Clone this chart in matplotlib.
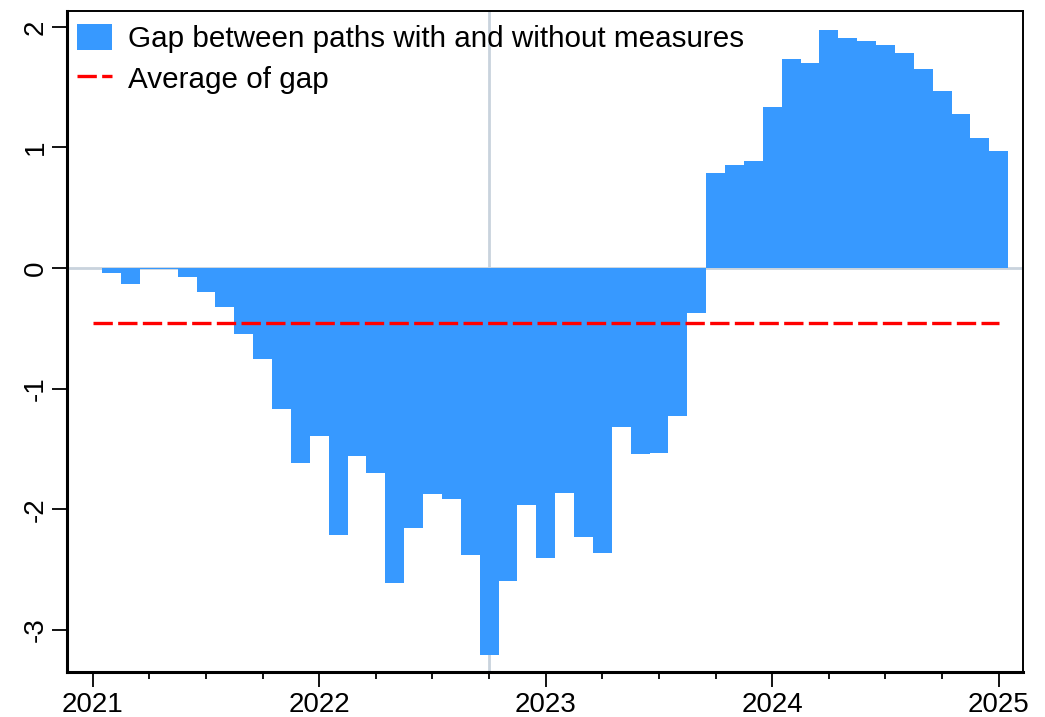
import matplotlib

matplotlib.use('Agg')

import matplotlib.pyplot as plt
import numpy as np
from matplotlib.ticker import MultipleLocator


plt.rcParams['font.family'] = ['Liberation Sans', 'DejaVu Sans']

# monthly gap, Jan 2021 .. Jan 2025
MONTHS = np.arange(49)
GAP = [
    0.0, -0.04, -0.135, -0.01, -0.01, -0.072, -0.196, -0.32, -0.545, -0.755, -1.17, -1.617,
    -1.393, -2.214, -1.559, -1.70, -2.61, -2.156, -1.874, -1.915, -2.38, -3.21, -2.595, -1.965,
    -2.405, -1.866, -2.23, -2.363, -1.318, -1.542, -1.534, -1.227, -0.373, 0.788, 0.854, 0.887,
    1.335, 1.733, 1.70, 1.973, 1.907, 1.882, 1.849, 1.783, 1.65, 1.468, 1.277, 1.078,
    0.97,
]
YEAR_TICKS = [0, 12, 24, 36, 48]
YEAR_LABELS = ['2021', '2022', '2023', '2024', '2025']
MARKER_MONTH = 21  # Oct 2022

BAR_COLOR = '#3799ff'
GRID_COLOR = '#c9d3dd'

avg_gap = np.mean(GAP)

fig = plt.figure(figsize=(10.45, 7.17), dpi=100)
ax = fig.add_axes([0.0638, 0.0623, 0.9156, 0.9228])

ax.axhline(0, color=GRID_COLOR, linewidth=2.0, zorder=1)
ax.axvline(MARKER_MONTH, color=GRID_COLOR, linewidth=2.0, zorder=1)

bars = ax.bar(MONTHS, GAP, width=1.0, color=BAR_COLOR, linewidth=0,
              label='Gap between paths with and without measures', zorder=2)
avg_line, = ax.plot([MONTHS[0], MONTHS[-1]], [avg_gap, avg_gap], color='red',
                    linestyle=(0, (5.8, 1.6)), linewidth=2.4,
                    label='Average of gap', zorder=3)

ax.set_xlim(-1.378, 49.31)
ax.set_ylim(-3.352, 2.134)

ax.set_xticks(YEAR_TICKS)
ax.set_xticklabels(YEAR_LABELS)
ax.xaxis.set_minor_locator(MultipleLocator(3))
ax.set_yticks([-3, -2, -1, 0, 1, 2])
ax.set_yticklabels(['-3', '-2', '-1', '0', '1', '2'], rotation=90, va='center')

ax.tick_params(axis='both', which='major', direction='out', length=11, width=1.3,
               labelsize=20, color='black')
ax.tick_params(axis='x', which='minor', direction='out', length=5, width=1.3)
ax.tick_params(axis='x', which='major', pad=3)
ax.tick_params(axis='y', which='major', pad=2)

for side in ['left', 'bottom']:
    ax.spines[side].set_linewidth(2.2)
for side in ['top', 'right']:
    ax.spines[side].set_linewidth(1.4)

ax.legend(handles=[bars, avg_line], loc='upper left', bbox_to_anchor=(0.0105, 0.98),
          frameon=False, fontsize=21.3, borderaxespad=0, borderpad=0,
          handlelength=1.2, handleheight=1.0, handletextpad=0.55, labelspacing=0.38)

fig.savefig('out.png', dpi=100)
plt.close(fig)
